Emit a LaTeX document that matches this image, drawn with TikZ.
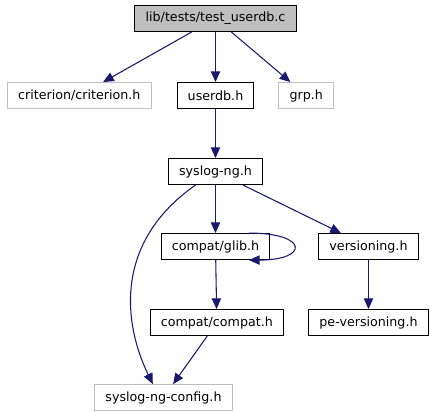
\documentclass[tikz,border=0pt]{standalone}
\usepackage{fontspec}
\setsansfont{DejaVu Sans}
\usetikzlibrary{arrows.meta,positioning}
\definecolor{graphEdgeBlue}{RGB}{25,25,112}
\definecolor{graphGrey}{RGB}{191,191,191}

\begin{document}
\begin{tikzpicture}[
  header/.style={draw=black,line width=0.75pt,minimum height=19.5pt,inner xsep=8pt,inner ysep=0pt,font=\sffamily\fontsize{9.5}{11}\selectfont},
  extheader/.style={header,draw=graphGrey},
  mainheader/.style={header,fill=graphGrey},
  arrow/.style={-{Triangle[length=8pt,width=7pt]},line width=0.8pt,graphEdgeBlue}
]
  \node[mainheader] (test) {lib/tests/test\_userdb.c};
  \node[header,below=37.5pt of test] (userdb) {userdb.h};
  \node[extheader,left=18.75pt of userdb] (criterion) {criterion/criterion.h};
  \node[extheader,right=18pt of userdb] (grp) {grp.h};
  \node[header,below=36.75pt of userdb] (syslogng) {syslog-ng.h};
  \node[header,below=36pt of syslogng] (glib) {compat/glib.h};
  \node[header,right=36pt of glib] (versioning) {versioning.h};
  \node[header,below=36.75pt of glib,xshift=1pt] (compat) {compat/compat.h};
  \node[header,below=36.75pt of versioning] (peversioning) {pe-versioning.h};
  \node[extheader,below=36pt of compat,xshift=-40pt] (config) {syslog-ng-config.h};
  \draw[arrow] (test) -- (criterion);
  \draw[arrow] (test) -- (userdb);
  \draw[arrow] (test) -- (grp);
  \draw[arrow] (userdb) -- (syslogng);
  \draw[arrow] ([xshift=-15pt]syslogng.south) to[out=-145,in=116,out distance=77pt,in distance=48pt] ([xshift=-8pt]config.north);
  \draw[arrow] (syslogng) -- (glib);
  \draw[arrow] (syslogng) -- (versioning);
  \draw[arrow] ([xshift=-16pt]glib.north east) to[out=0,in=0,distance=45pt] ([xshift=-16pt]glib.south east);
  \draw[arrow] (glib) -- (compat);
  \draw[arrow] (compat) -- (config);
  \draw[arrow] (versioning) -- (peversioning);
  \useasboundingbox ([shift={(-161.6pt,13.9pt)}]test.center) rectangle ([shift={(166.1pt,-294.4pt)}]test.center);
\end{tikzpicture}
\end{document}
